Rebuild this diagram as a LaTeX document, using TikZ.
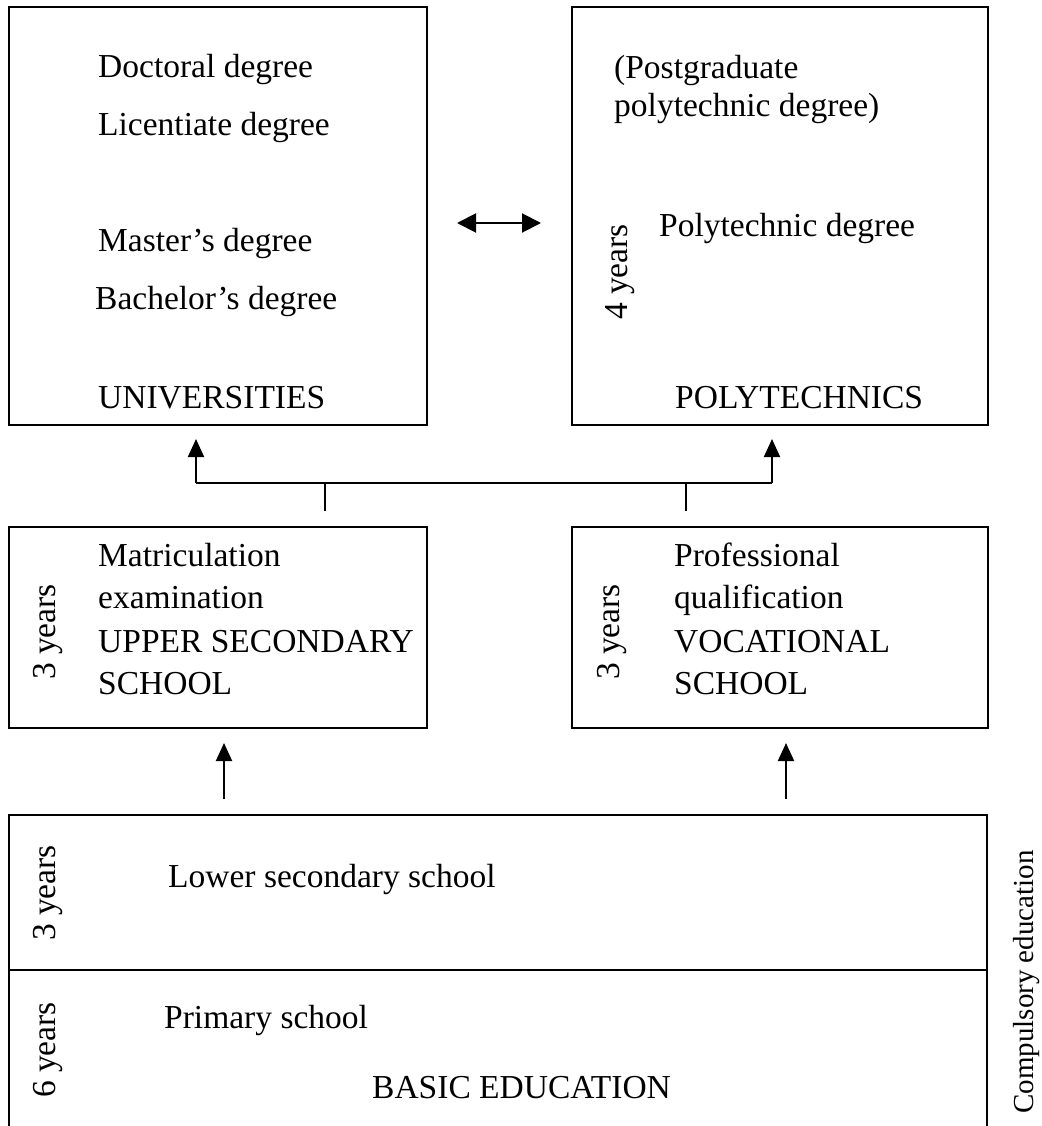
\documentclass[tikz,border=0pt]{standalone}
\usepackage{fontspec}
\setmainfont{Liberation Serif}
\usetikzlibrary{arrows.meta}
\begin{document}
\begin{tikzpicture}[x=1pt,y=-1pt,
  box/.style={draw, line width=2pt, inner sep=0pt, anchor=north west},
  lbl/.style={anchor=base west, inner sep=0pt, font=\fontsize{33.5}{40}\selectfont},
  yrs/.style={rotate=90, inner sep=0pt, font=\fontsize{33.5}{40}\selectfont},
  ln/.style={line width=2pt},
  arr/.style={line width=2pt, -{Triangle[length=18pt,width=16pt]}},
  dbl/.style={line width=2pt, {Triangle[length=19pt,width=19pt]}-{Triangle[length=19pt,width=19pt]}}]
\useasboundingbox (0,0) rectangle (1041,1126);
\clip (0,0) rectangle (1041,1126);
% boxes
\node[box, minimum width=418pt, minimum height=418pt] (univ) at (8,6) {};
\node[box, minimum width=416pt, minimum height=418pt] (poly) at (571,6) {};
\node[box, minimum width=418pt, minimum height=201pt] (upper) at (8,526) {};
\node[box, minimum width=416pt, minimum height=201pt] (voc) at (571,526) {};
\node[box, minimum width=978pt, minimum height=340pt] (basic) at (8,814) {};
\coordinate (div) at (0,970);
\draw[ln] (basic.west |- div) -- (basic.east |- div);
% universities
\node[lbl] (t1) at (98,78) {Doctoral degree};
\node[lbl] (t2) at (98,136) {Licentiate degree};
\node[lbl] (t3) at (98,251) {Master’s degree};
\node[lbl] (t4) at (95,309) {Bachelor’s degree};
\node[lbl] (t5) at (98,408) {UNIVERSITIES};
% polytechnics
\node[lbl] (p1) at (614,79) {(Postgraduate};
\node[lbl] (p2) at (614,117) {polytechnic degree)};
\node[lbl] (p3) at (659,236) {Polytechnic degree};
\node[lbl] (p4) at (675,408) {POLYTECHNICS};
\node[yrs] (y4) at (620,272) {4 years};
% upper secondary
\node[lbl] (u1) at (98,566) {Matriculation};
\node[lbl] (u2) at (98,608) {examination};
\node[lbl] (u3) at (98,652) {UPPER SECONDARY};
\node[lbl] (u4) at (98,694) {SCHOOL};
\node[yrs] (y3a) at (48,632) {3 years};
% vocational
\node[lbl] (v1) at (674,566) {Professional};
\node[lbl] (v2) at (674,608) {qualification};
\node[lbl] (v3) at (674,652) {VOCATIONAL};
\node[lbl] (v4) at (674,694) {SCHOOL};
\node[yrs] (y3b) at (612,632) {3 years};
% basic
\node[lbl] (b1) at (168,887) {Lower secondary school};
\node[lbl] (b2) at (164,1028) {Primary school};
\node[lbl] (b3) at (372,1098) {BASIC EDUCATION};
\node[yrs] (y3c) at (48,893) {3 years};
\node[yrs] (y6) at (48,1050) {6 years};
\node[rotate=90, inner sep=0pt, font=\fontsize{29}{35}\selectfont] (comp) at (1027,982) {Compulsory education};
% connectors
\coordinate (d) at (0,223);
\draw[dbl, shorten <=29pt, shorten >=30pt] (univ.east |- d) -- (poly.west |- d);
\coordinate (s1) at (325,483);
\coordinate (s2) at (686,483);
\coordinate (jl) at (196,483);
\coordinate (jr) at (772,483);
\draw[ln, shorten <=15pt] (upper.north -| s1) -- (s1);
\draw[ln, shorten <=15pt] (voc.north -| s2) -- (s2);
\draw[ln] (jl) -- (jr);
\draw[arr, shorten >=13pt] (jl) -- (univ.south -| jl);
\draw[arr, shorten >=13pt] (jr) -- (poly.south -| jr);
\coordinate (a1) at (224,0);
\coordinate (a2) at (786,0);
\draw[arr, shorten <=15pt, shorten >=14pt] (basic.north -| a1) -- (upper.south -| a1);
\draw[arr, shorten <=15pt, shorten >=14pt] (basic.north -| a2) -- (voc.south -| a2);
\end{tikzpicture}
\end{document}
